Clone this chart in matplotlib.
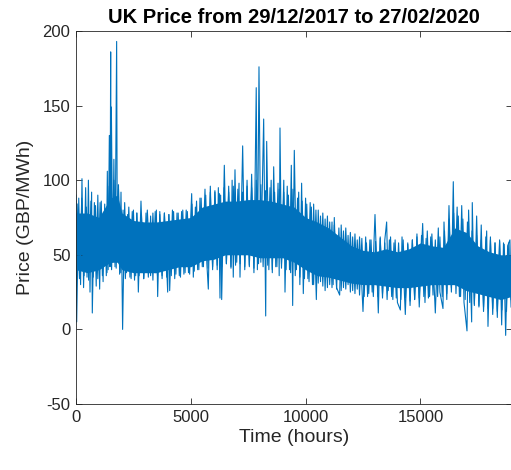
import matplotlib
matplotlib.use("Agg")
import matplotlib.pyplot as plt

# extremes (hour, price), in time order
hours = [0, 30, 120, 200, 260, 330, 420, 480, 540, 610, 680, 710, 800, 880, 950, 1030,
         1100, 1180, 1250, 1320, 1365, 1400, 1452, 1480, 1510, 1525, 1540, 1600, 1650,
         1700, 1770, 1800, 1850, 1900, 1960, 2030,
         2120, 2200, 2300, 2400, 2500, 2600, 2650, 2715, 2830, 2950, 3106, 3250, 3350,
         3450, 3500, 3557, 3650, 3750, 3850, 3993, 4040, 4080, 4200, 4300, 4400, 4500,
         4600, 4700, 4800, 4900, 5038, 5110, 5200, 5300, 5400, 5500,
         5618, 5700, 5763, 5850, 5950, 6050, 6150, 6200, 6272, 6300, 6345, 6460, 6550,
         6650, 6750, 6800, 6850, 6925, 7000, 7100, 7143, 7259, 7350, 7450, 7550, 7650,
         7750, 7850, 7900, 7970, 8050, 8174, 8262, 8305, 8400, 8500, 8550, 8610, 8700,
         8800, 8850, 8885, 8950, 9050, 9103, 9200, 9300, 9378, 9437, 9508, 9600,
         9700, 9750, 9827, 9900, 10000, 10100, 10200, 10300, 10350, 10468, 10550, 10650,
         10750, 10850, 10950, 11050, 11150, 11200, 11250, 11350, 11484, 11550, 11650,
         11750, 11850, 11950, 12050, 12150, 12250, 12350, 12500, 12617, 12700,
         12800, 12900, 13023, 13167, 13250, 13350, 13450, 13530, 13600, 13700, 13800,
         13900, 14000, 14128, 14200, 14343, 14450, 14550, 14650, 14750, 14850, 14950,
         15099, 15200, 15300, 15400, 15500, 15650, 15780, 15850,
         15984, 16028, 16150, 16245, 16350, 16433, 16500, 16600, 16700, 16800, 16900,
         17030, 17100, 17233, 17260, 17350, 17450, 17550, 17650, 17750, 17887, 17944,
         18050, 18150, 18250, 18350, 18450, 18540, 18620, 18714, 18800, 18900, 18950]
price = [90, 5, 88, 30, 101, 28, 95, 35, 100, 25, 92, 11, 85, 29, 90, 27,
         86, 32, 84, 36, 106, 40, 130, 42, 186, 44, 149, 45, 114,
         42, 193, 46, 97, 37, 92, 0,
         85, 38, 82, 34, 80, 36, 78, 25, 86, 34, 80, 36, 78,
         38, 80, 22, 79, 36, 78, 25, 77, 26, 80, 34, 78, 36,
         79, 37, 80, 38, 91, 35, 82, 40, 88, 42,
         94, 44, 27, 96, 42, 92, 40, 95, 21, 90, 20, 110, 44,
         96, 42, 100, 35, 107, 45, 98, 35, 123, 40, 100, 42, 104,
         38, 162, 40, 176, 45, 141, 9, 126, 40, 100, 38, 109, 42,
         98, 36, 135, 44, 100, 25, 96, 40, 110, 16, 120, 40,
         92, 30, 98, 24, 88, 34, 85, 30, 84, 20, 80, 32,
         78, 26, 76, 30, 72, 30, 75, 28, 23, 70, 28,
         68, 30, 65, 26, 64, 27, 62, 12, 62, 22,
         60, 25, 77, 11, 62, 24, 60, 72, 26, 62, 20,
         60, 18, 13, 62, 10, 58, 16, 60, 20, 64, 15,
         71, 18, 66, 22, 64, 11, 68, 25,
         14, 72, 20, 83, 28, 99, 30, 82, 22, 83, 18,
         -1, 80, 5, 85, 16, 76, 15, 70, 12, 66, 2,
         62, 10, 58, 8, 60, 3, 58, -4, 56, 60, 20]

# smaller swings just outside the dense core, every 100 hours from hour 50
minor_hours = list(range(50, 19000, 100))
minor_price = [84, 34, 88, 36, 82, 33, 86, 35, 83, 34,
               85, 36, 80, 38, 96, 40, 100, 41, 94, 38,
               80, 34, 77, 35, 79, 33, 78, 36, 77, 34,
               78, 35, 76, 33, 79, 36, 77, 34, 78, 35,
               77, 36, 79, 37, 78, 35, 80, 38, 79, 37,
               84, 39, 86, 40, 88, 42, 90, 41, 92, 40,
               93, 43, 91, 42, 95, 44, 92, 41, 96, 43,
               94, 44, 92, 42, 96, 43, 95, 41, 100, 44,
               97, 42, 93, 43, 95, 40, 92, 42, 94, 41,
               92, 40, 90, 38, 94, 36, 88, 35, 86, 34,
               84, 32, 82, 30, 80, 31, 76, 29, 74, 28,
               72, 28, 70, 27, 68, 26, 66, 27, 63, 25,
               62, 24, 60, 23, 61, 22, 58, 24, 60, 22,
               59, 22, 61, 21, 58, 20, 60, 22, 58, 21,
               58, 20, 60, 21, 57, 19, 60, 20, 62, 21,
               63, 22, 61, 21, 62, 23, 60, 22, 62, 22,
               66, 24, 74, 25, 78, 24, 76, 22, 74, 20,
               72, 18, 66, 17, 63, 16, 60, 15, 62, 14,
               60, 14, 58, 12, 59, 13, 57, 12, 58, 15]

# dense core of the trace
core_hours = [0, 500, 1000, 1500, 1800, 2000, 2500, 3000, 3500, 4000, 4500, 5000, 5500,
              6000, 6500, 7000, 7500, 8000, 8500, 9000, 9500, 10000, 10500, 11000, 11500,
              12000, 12500, 13000, 13500, 14000, 14500, 15000, 15500, 16000, 16500, 17000,
              17500, 18000, 18500, 18950]
core_high = [78, 78, 75, 88, 90, 78, 73, 72, 72, 73, 74, 75, 82,
             84, 86, 86, 87, 87, 86, 84, 82, 75, 72, 68, 62,
             56, 53, 52, 54, 52, 54, 58, 56, 55, 68, 65,
             56, 52, 50, 50]
core_low = [40, 38, 40, 45, 45, 40, 38, 38, 38, 40, 42, 42, 46,
            47, 50, 50, 50, 48, 48, 48, 45, 40, 36, 35, 33,
            31, 30, 30, 29, 28, 28, 29, 30, 30, 30, 26,
            24, 22, 20, 22]

blue = "#0072BD"
ink = "#262626"
plt.rcParams["font.family"] = ["Liberation Sans", "DejaVu Sans"]
plt.rcParams["axes.unicode_minus"] = False

fig = plt.figure(figsize=(5.11, 4.70), dpi=100)
ax = fig.add_axes([76 / 511, 66 / 470, 436 / 511, 373 / 470])

ax.fill_between(core_hours, core_low, core_high, color=blue, lw=0)
ax.plot(minor_hours, minor_price, color=blue, lw=0.8)
ax.plot(hours, price, color=blue, lw=0.8)

ax.set_xlim(0, 18990)
ax.set_ylim(-50, 200)
ax.set_xticks([0, 5000, 10000, 15000])
ax.set_yticks([-50, 0, 50, 100, 150, 200])
ax.tick_params(direction="in", length=4, width=0.6, top=True, right=True,
               labelsize=12, colors=ink, pad=4)
for s in ax.spines.values():
    s.set_color(ink)
    s.set_linewidth(0.6)

ax.set_xlabel("Time (hours)", fontsize=14, color=ink, labelpad=3)
ax.set_ylabel("Price (GBP/MWh)", fontsize=14, color=ink, labelpad=6)
ax.set_title("UK Price from 29/12/2017 to 27/02/2020", fontsize=14.5,
             fontweight="bold", color="black", pad=6)

fig.savefig("out.png", dpi=100)
